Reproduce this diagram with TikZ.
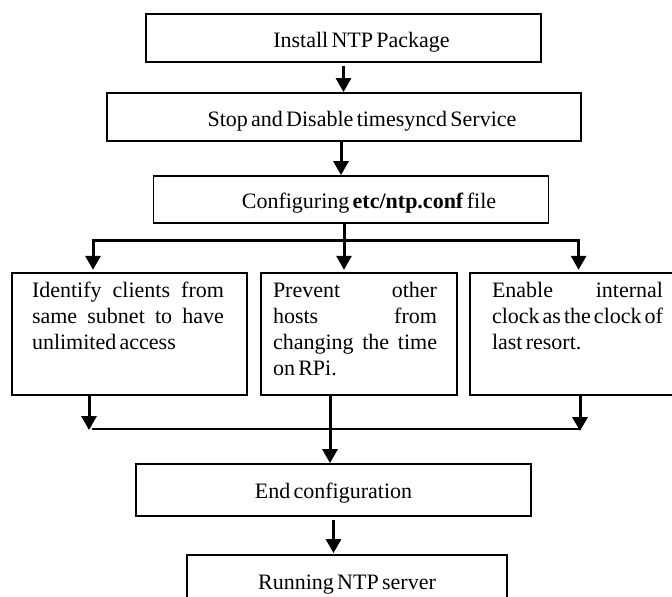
\documentclass[tikz,border=0pt]{standalone}
\usepackage{fontspec}
\setmainfont[WordSpace={0.6,2,1.6}]{Liberation Serif}
\usetikzlibrary{arrows.meta,calc}

% paragraph box for the three option boxes: width, left margin, right margin, text
\newcommand\optext[4]{\parbox[c][122.3pt][t]{#1}{\leftskip=#2\rightskip=#3\relax\rule{0pt}{25pt}#4}}

\tikzset{
  basefont/.style={font=\fontsize{22}{26}\selectfont},
  stepbox/.style={basefont, draw, line width=1.8pt, inner sep=0pt, minimum height=48pt, text height=18pt, text depth=0pt},
  optbox/.style={basefont, draw, line width=1.8pt, inner sep=0pt},
  flow/.style={line width=3pt, -{Triangle[length=14pt,width=15pt]}},
  branchline/.style={line width=3pt, line cap=rect},
  joinline/.style={line width=2pt},
}

\begin{document}
\begin{tikzpicture}[x=1pt, y=-1pt]
\useasboundingbox (0,0) rectangle (672,597);

% main steps
\node[stepbox, minimum width=395pt] (install) at (343.5,38) {\hspace*{36pt}Install NTP Package};
\node[stepbox, minimum width=474pt] (stop) at (344,117) {\hspace*{36pt}Stop and Disable timesyncd Service};
\node[stepbox, minimum width=395pt, minimum height=47pt] (conf) at (351,199.5) {\hspace*{36pt}Configuring \textbf{etc/ntp.conf} file};

% configuration options
\node[optbox, minimum width=235.4pt] (clients) at (129.3,333.85)
  {\optext{235.4pt}{20.4pt}{23pt}{Identify clients from\linebreak same subnet to have\linebreak unlimited access}};
\node[optbox, minimum width=196pt] (hosts) at (359,333.85)
  {\optext{196pt}{12pt}{20pt}{Prevent other\linebreak hosts from\linebreak changing the time\linebreak on RPi.}};
\node[optbox, minimum width=230pt] (resort) at (585,333.85)
  {\optext{230pt}{22pt}{37pt}{Enable internal\linebreak clock as the clock of\linebreak last resort.}};

% final steps
\node[stepbox, minimum width=395pt, minimum height=52pt, text height=17pt] (endc) at (333.5,490) {End configuration};
\node[stepbox, minimum width=320pt, minimum height=52pt, text height=17pt] (run) at (347,581) {Running NTP server};

% junction points
\coordinate (bl) at (93,240);
\coordinate (br) at (578.6,240);
\coordinate (jl) at (89,430);
\coordinate (jr) at (580,431);
\coordinate (jla) at (92,429);
\coordinate (jra) at (580,429);
\coordinate (mid) at (330,0);
\coordinate (cdrop) at (344,0);
\coordinate (sdrop) at (341,0);

% connectors
\draw[flow, shorten <=3pt] (install.south) -- (install.south |- stop.north);
\draw[flow] (stop.south -| sdrop) -- (conf.north -| sdrop);
\draw[flow, shorten >=2pt] (conf.south -| cdrop) -- (hosts.north -| cdrop);
\draw[branchline] (bl) -- (br);
\draw[flow, shorten >=2pt] (bl) -- (bl |- clients.north);
\draw[flow, shorten >=2pt] (br) -- (br |- resort.north);

\draw[flow] (clients.south -| jl) -- (jl);
\draw[flow] (resort.south -| jr) -- (jr);
\draw[joinline] (jla) -- (jra);
\draw[flow] (hosts.south -| mid) -- (endc.north -| mid);
\draw[flow, shorten <=3pt, shorten >=1pt] (endc.south) -- (endc.south |- run.north);
\end{tikzpicture}
\end{document}
